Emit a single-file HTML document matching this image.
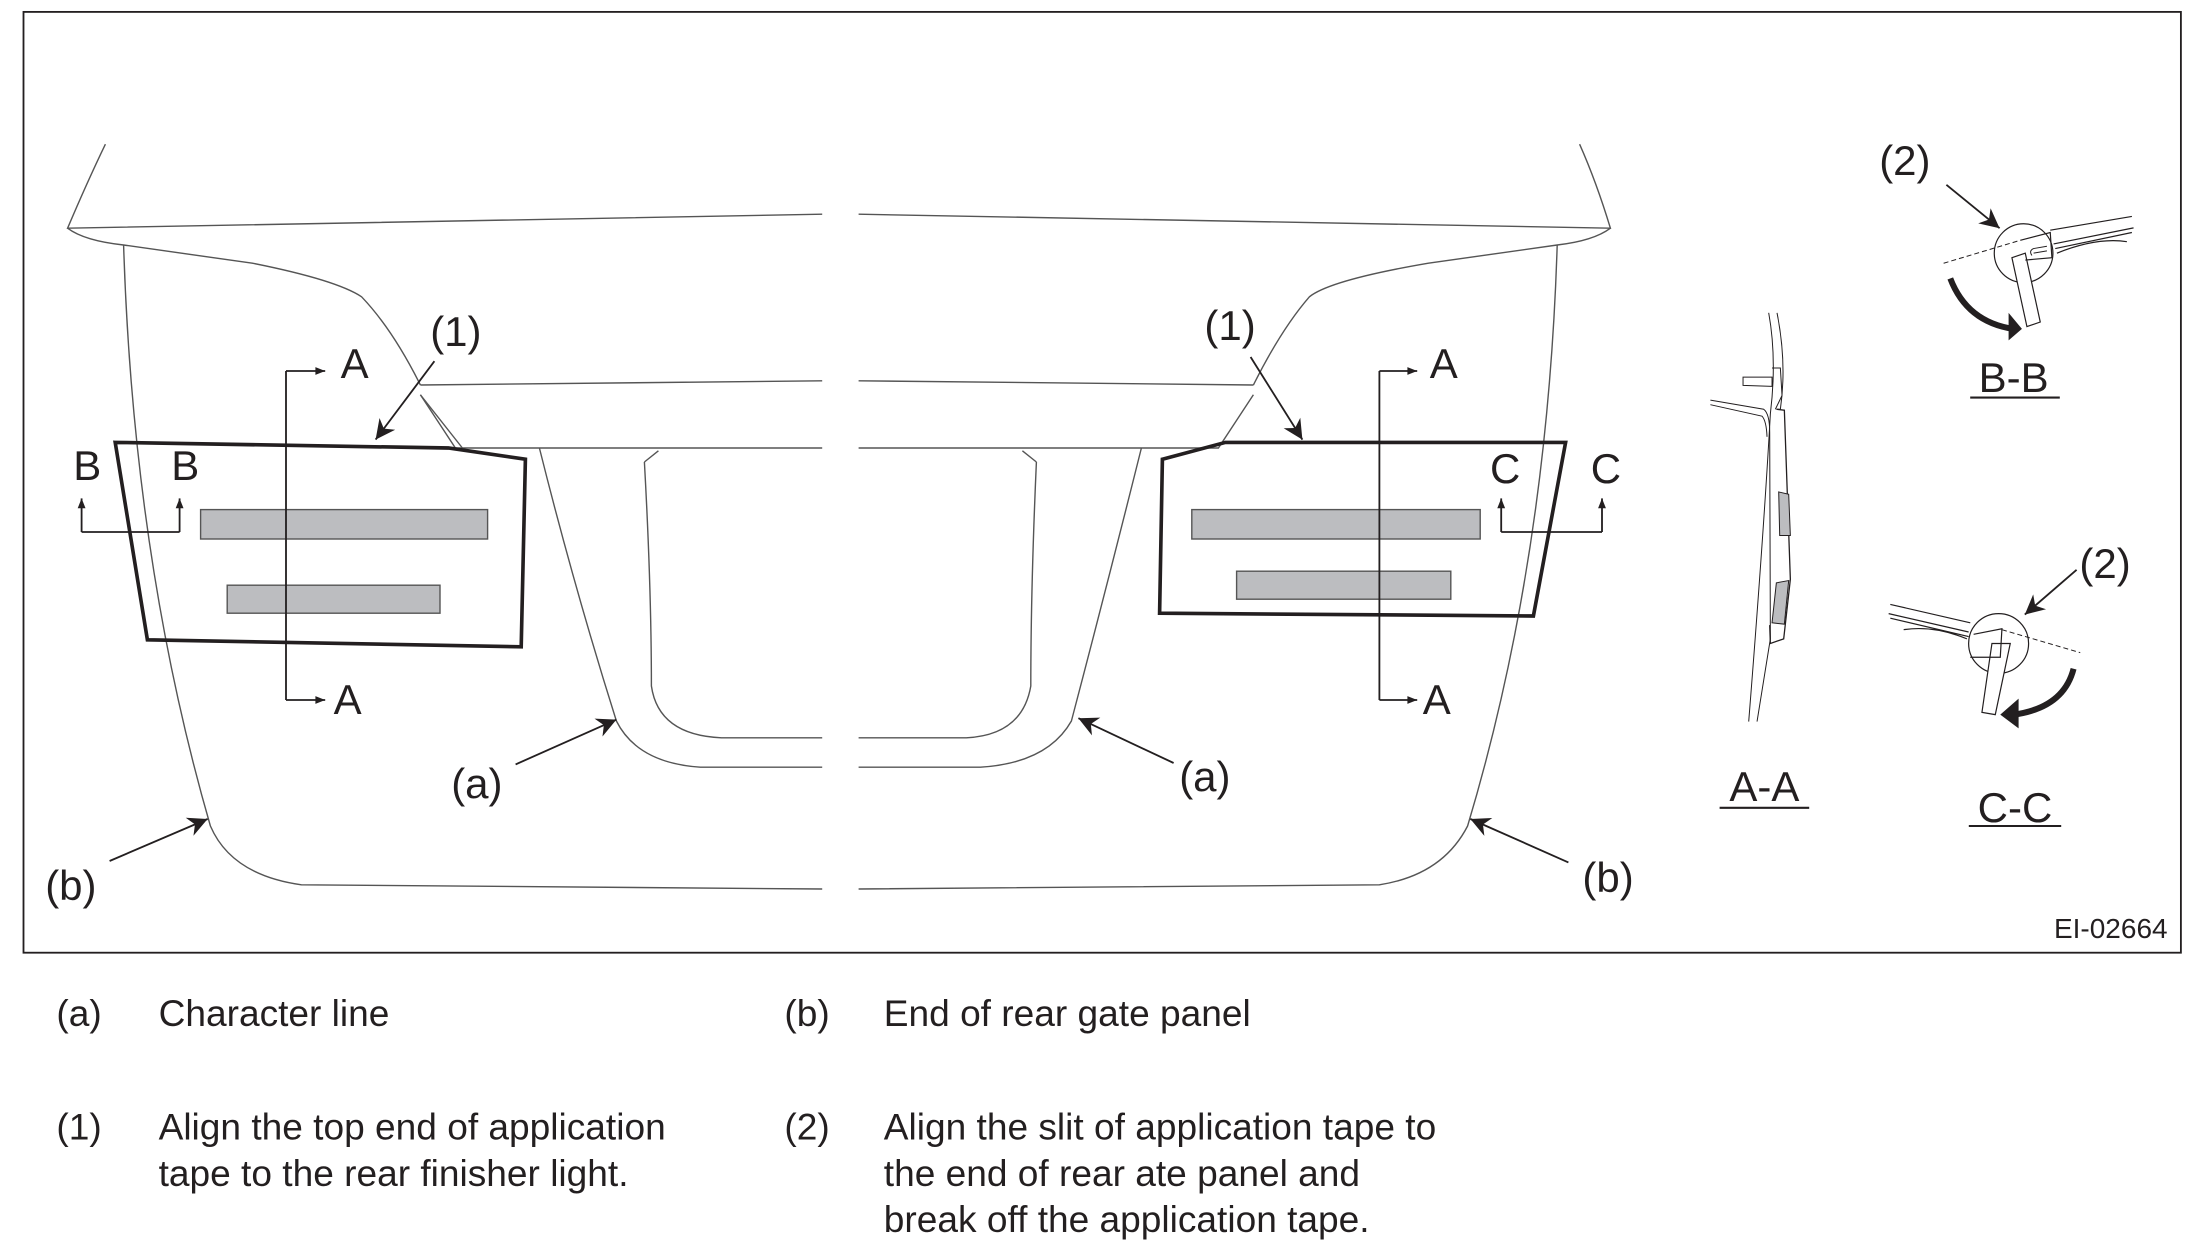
<!DOCTYPE html>
<html><head><meta charset="utf-8"><style>
html,body{margin:0;padding:0;background:#fff;}
svg{display:block;}
text{font-family:"Liberation Sans",Arial,sans-serif;fill:#231f20;}
.ns{vector-effect:non-scaling-stroke;}
</style></head><body>
<svg width="2196" height="1260" viewBox="0 0 1568 900" xmlns="http://www.w3.org/2000/svg">
<defs>
<marker id="ah" viewBox="0 0 10 10" refX="10" refY="5" markerWidth="8" markerHeight="7" orient="auto-start-reverse" markerUnits="userSpaceOnUse"><path d="M0,1 L10,5 L0,9 Z" fill="#231f20"/></marker>
<marker id="ah2" viewBox="0 0 10 10" refX="10" refY="5" markerWidth="16" markerHeight="14" orient="auto" markerUnits="userSpaceOnUse"><path d="M0,0 L10,5 L0,10 L3,5 Z" fill="#231f20"/></marker>
</defs>
<rect x="16.5" y="8.5" width="1541" height="672" fill="none" stroke="#231f20" stroke-width="1.3"/>

<g fill="none" stroke="#555" stroke-width="1">
<path d="M75,103 Q62,130 48,163 L587,153"/>
<path d="M48,163 Q60,172 88,175 L180,188 Q240,200 258,212 Q280,235 300,275"/>
<path d="M88,175 Q95,400 150,590 Q165,625 215,632 L587,635"/>
<path d="M300,275 L587,272"/>
<path d="M300,282 L325,320 L587,320"/>
<path d="M300,282 L330,320"/>
<path d="M385,320 Q410,420 440,515 Q455,545 500,548 L587,548"/>
<path d="M460,330 Q465,420 465,490 Q470,525 515,527 L587,527"/>
<path d="M460,330 L470,322"/>
<path d="M1128,103 Q1140,130 1150,163 L613,153"/>
<path d="M1150,163 Q1138,172 1112,175 L1020,188 Q950,200 935,212 Q915,235 895,275"/>
<path d="M1112,175 Q1105,400 1048,590 Q1030,625 985,632 L613,635"/>
<path d="M895,275 L613,272"/>
<path d="M895,282 L870,320 L613,320"/>
<path d="M815,320 Q790,420 765,515 Q748,545 700,548 L613,548"/>
<path d="M740,330 Q736,420 736,490 Q730,525 690,527 L613,527"/>
<path d="M740,330 L730,322"/>
</g>

<g stroke="#231f20" stroke-width="2.6" fill="none">
<path d="M82,316 L320,320 L375,328 L372,462 L105,457 Z"/>
<path d="M830,328 L875,316 L1118,316 L1095,440 L828,438 Z"/>
</g>
<g fill="#bcbdc0" stroke="#555" stroke-width="1">
<rect x="143" y="364" width="205" height="21"/>
<rect x="162" y="418" width="152" height="20"/>
<rect x="851" y="364" width="206" height="21"/>
<rect x="883" y="408" width="153" height="20"/>
</g>

<g stroke="#231f20" stroke-width="1.3" fill="none">
<path d="M204,265 L204,500"/>
<path d="M204,265 L232,265" marker-end="url(#ah)"/>
<path d="M204,500 L232,500" marker-end="url(#ah)"/>
<path d="M985,265 L985,500"/>
<path d="M985,265 L1012,265" marker-end="url(#ah)"/>
<path d="M985,500 L1012,500" marker-end="url(#ah)"/>
<path d="M58,380 L128,380"/>
<path d="M58,380 L58,356" marker-end="url(#ah)"/>
<path d="M128,380 L128,356" marker-end="url(#ah)"/>
<path d="M1072,380 L1144,380"/>
<path d="M1072,380 L1072,356" marker-end="url(#ah)"/>
<path d="M1144,380 L1144,356" marker-end="url(#ah)"/>
<path d="M310,258 L268,314" marker-end="url(#ah2)"/>
<path d="M893,255 L930,314" marker-end="url(#ah2)"/>
<path d="M368,546 L440,514" marker-end="url(#ah2)"/>
<path d="M838,545 L770,513" marker-end="url(#ah2)"/>
<path d="M78,615 L148,585" marker-end="url(#ah2)"/>
<path d="M1120,616 L1050,585" marker-end="url(#ah2)"/>
<path d="M1390,132 L1428,163" marker-end="url(#ah2)"/>
<path d="M1483,407 L1446,439" marker-end="url(#ah2)"/>
</g>

<g font-size="30">
<text x="243" y="270">A</text>
<text x="238" y="510">A</text>
<text x="1021" y="270">A</text>
<text x="1016" y="510">A</text>
<text x="52" y="343">B</text>
<text x="122" y="343">B</text>
<text x="1064" y="345">C</text>
<text x="1136" y="345">C</text>
<text x="307" y="247">(1)</text>
<text x="860" y="243">(1)</text>
<text x="322" y="570">(a)</text>
<text x="842" y="565">(a)</text>
<text x="32" y="643">(b)</text>
<text x="1130" y="637">(b)</text>
<text x="1342" y="125">(2)</text>
<text x="1485" y="413">(2)</text>
<text x="1438" y="280" text-anchor="middle">B-B</text>
<text x="1260" y="572" text-anchor="middle">A-A</text>
<text x="1439" y="587" text-anchor="middle">C-C</text>
</g>
<g stroke="#231f20" stroke-width="1.5">
<path d="M1407,284 L1471,284"/>
<path d="M1228,577 L1292,577"/>
<path d="M1406,590 L1472,590"/>
</g>
<text x="1548" y="670" font-size="20" text-anchor="end">EI-02664</text>

<g transform="translate(1200,85.7) scale(0.238,0.328)">
<g fill="none" stroke="#231f20">
<ellipse class="ns" cx="1030" cy="290" rx="88" ry="64" stroke-width="1.2"/>
<path class="ns" d="M790,312 L1020,262" stroke-dasharray="5,3" stroke-width="1"/>
<path class="ns" d="M995,300 L1035,290 L1080,440 L1040,450 Z" fill="#fff" stroke-width="1.2"/>
<path class="ns" d="M1020,262 L1110,245 L1115,300 L1035,305" stroke-width="1.2"/>
<path class="ns" d="M1055,295 Q1045,285 1060,280 L1100,275 M1060,290 L1100,285" stroke-width="1"/>
<path class="ns" d="M1110,240 L1355,210 M1120,270 L1360,235 M1125,280 L1355,245 M1130,290 Q1250,255 1340,265" stroke-width="1.2"/>
<path class="ns" d="M810,345 Q860,440 1000,455" stroke-width="6"/>
<path d="M985,420 L1025,455 L985,480 Z" fill="#231f20" stroke="none"/>
<ellipse class="ns" cx="955" cy="1140" rx="90" ry="65" stroke-width="1.2"/>
<path class="ns" d="M965,1110 L1200,1160" stroke-dasharray="5,3" stroke-width="1"/>
<path class="ns" d="M935,1140 L990,1140 L945,1295 L905,1290 Z" fill="#fff" stroke-width="1.2"/>
<path class="ns" d="M880,1120 L965,1108 L960,1170 L870,1170" stroke-width="1.2"/>
<path class="ns" d="M630,1055 L870,1095 M625,1075 L865,1115 M630,1085 L865,1125 M670,1110 Q760,1100 860,1130" stroke-width="1.2"/>
<path class="ns" d="M1180,1195 Q1150,1280 1000,1295" stroke-width="6"/>
<path d="M1015,1260 L960,1295 L1015,1325 Z" fill="#231f20" stroke="none"/>
<g stroke-width="1">
<path class="ns" d="M265,420 Q290,520 270,640 Q250,900 205,1310"/>
<path class="ns" d="M290,420 Q320,530 300,630 L290,630"/>
<path class="ns" d="M90,610 L250,630 Q268,640 268,680 L270,1130 Q250,1220 230,1310"/>
<path class="ns" d="M90,620 L245,645 Q258,655 260,690"/>
<path class="ns" d="M188,560 L275,560 L275,580 L188,578 Z"/>
<path class="ns" d="M275,540 L300,540 L305,600 L285,630"/>
<path class="ns" d="M288,630 L312,632 L330,1000 L310,1130 L270,1140 L268,1100" stroke-width="1.3"/>
</g>
<path class="ns" d="M295,810 L325,815 L330,905 L298,905 Z" fill="#bcbdc0" stroke-width="1"/>
<path class="ns" d="M288,1008 L325,1003 L312,1098 L275,1095 Z" fill="#bcbdc0" stroke-width="1"/>
</g>
</g>

<g font-size="26.5">
<text x="40" y="733">(a)</text>
<text x="113" y="733">Character line</text>
<text x="560" y="733">(b)</text>
<text x="631" y="733">End of rear gate panel</text>
<text x="40" y="814">(1)</text>
<text x="113" y="814">Align the top end of application</text>
<text x="113" y="847">tape to the rear finisher light.</text>
<text x="560" y="814">(2)</text>
<text x="631" y="814">Align the slit of application tape to</text>
<text x="631" y="847">the end of rear ate panel and</text>
<text x="631" y="880">break off the application tape.</text>
</g>
</svg>
</body></html>
